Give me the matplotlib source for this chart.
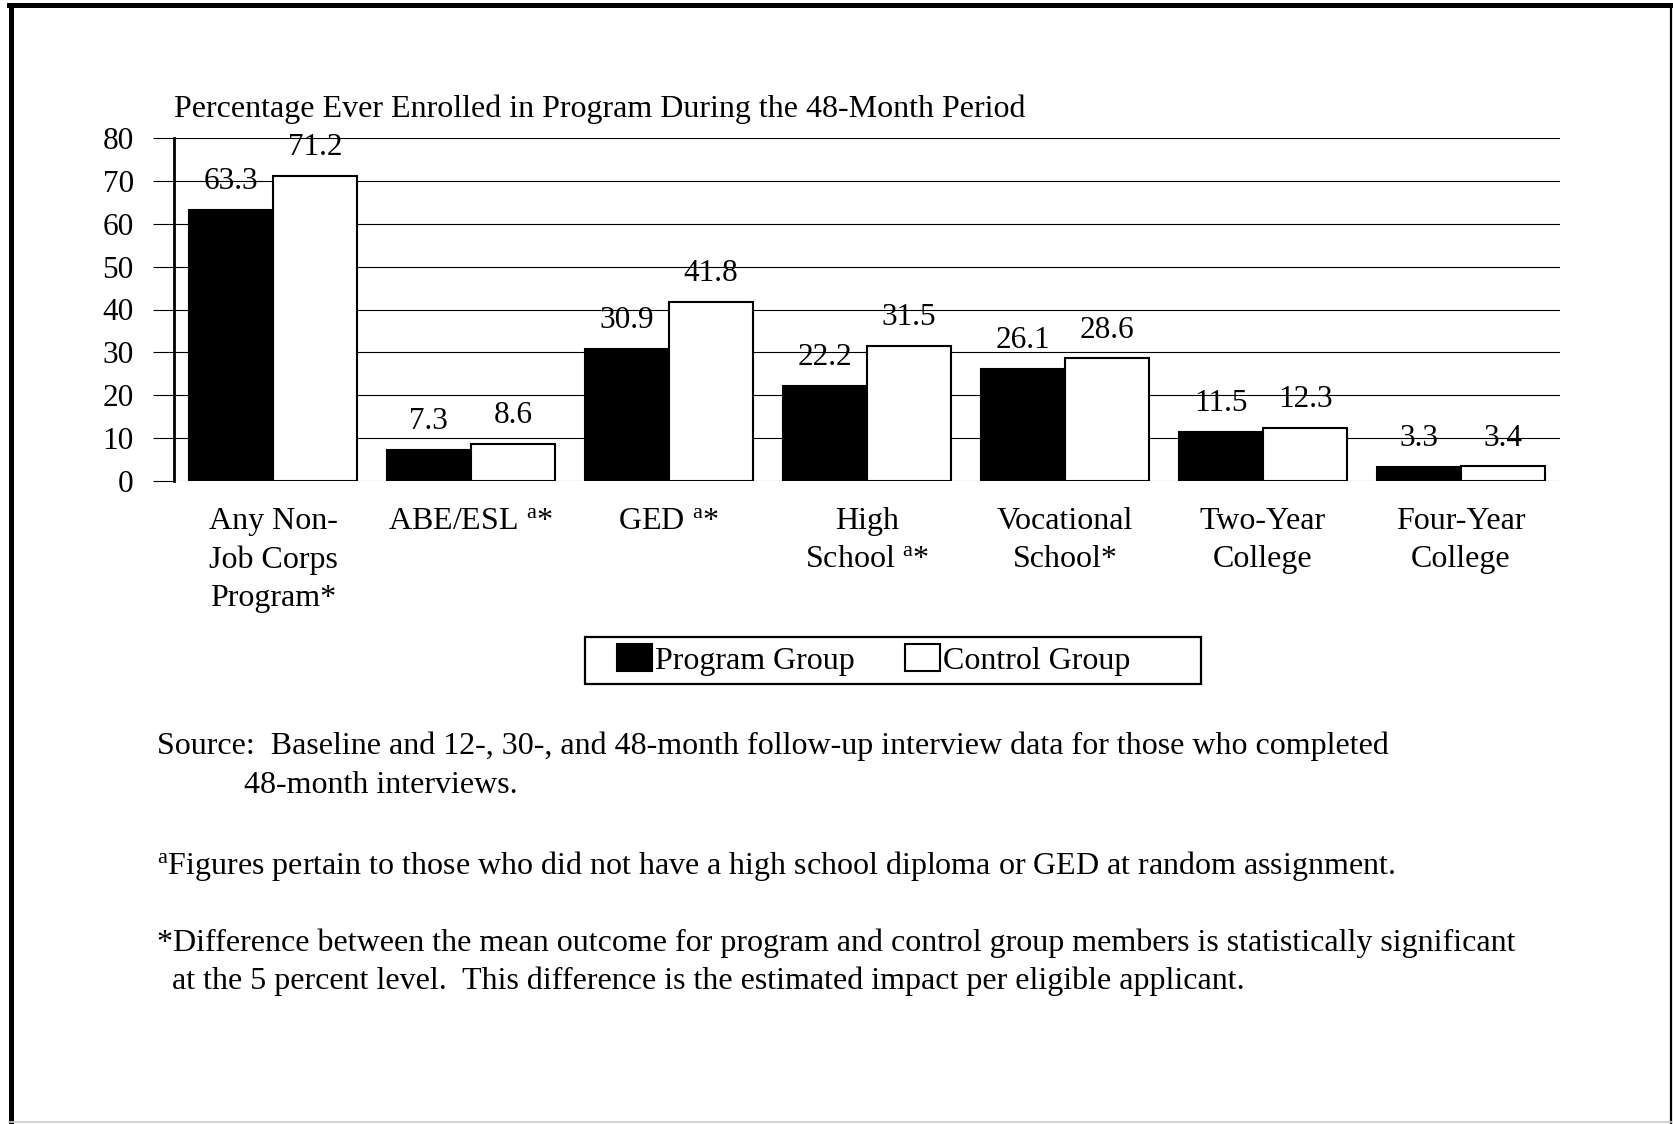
import numpy as np
import matplotlib.pyplot as plt
from matplotlib.lines import Line2D
from matplotlib.patches import Rectangle, Patch

plt.rcParams['font.family'] = ['Liberation Serif', 'DejaVu Serif']
plt.rcParams['mathtext.fontset'] = 'custom'
plt.rcParams['mathtext.rm'] = 'Liberation Serif'
plt.rcParams['mathtext.it'] = 'Liberation Serif'

# Donnees
categories = ["Any Non-\nJob Corps\nProgram*",
              r"ABE/ESL $^{\mathrm{a}}$*",
              r"GED $^{\mathrm{a}}$*",
              "High\n" + r"School $^{\mathrm{a}}$*",
              "Vocational\nSchool*",
              "Two-Year\nCollege",
              "Four-Year\nCollege"]
program = [63.3, 7.3, 30.9, 22.2, 26.1, 11.5, 3.3]
control = [71.2, 8.6, 41.8, 31.5, 28.6, 12.3, 3.4]
y_ticks = [0, 10, 20, 30, 40, 50, 60, 70, 80]

FS = 23      # texte
FN = 22.5    # chiffres
W, H = 1673, 1124
fig = plt.figure(figsize=(W / 100, H / 100), dpi=100)
ax = fig.add_axes([174 / W, 1 - 481 / H, (1560 - 174) / W, (481 - 138) / H])

x = np.arange(len(categories))
bw = 0.425
b1 = ax.bar(x - bw / 2, program, bw, color='black', edgecolor='black', linewidth=1.5, zorder=3)
b2 = ax.bar(x + bw / 2, control, bw, color='white', edgecolor='black', linewidth=1.5, zorder=3)

for bars, vals in [(b1, program), (b2, control)]:
    for r, v in zip(bars, vals):
        ax.annotate(f"{v:.1f}", (r.get_x() + r.get_width() / 2, v), xytext=(0, 15),
                    textcoords='offset points', ha='center', va='baseline', fontsize=FN, zorder=4)

ax.set_xlim(-0.5, len(categories) - 0.5)
ax.set_ylim(0, 80)
ax.set_yticks(y_ticks)
ax.set_xticks(x)
ax.set_xticklabels(categories, fontsize=FS, linespacing=1.4)
ax.tick_params(axis='x', length=0, pad=19)
ax.tick_params(axis='y', direction='out', length=15, width=0.8, pad=14, labelsize=FN)
ax.yaxis.grid(True, color='black', linewidth=0.8)
ax.set_axisbelow(True)
for s in ['top', 'right', 'bottom']:
    ax.spines[s].set_visible(False)
ax.spines['left'].set_linewidth(2)
ax.get_ygridlines()[0].set_color('#777777')

fig.text(174 / W, 1 - 117 / H, "Percentage Ever Enrolled in Program During the 48-Month Period",
         fontsize=FS, va='baseline', ha='left')

# Legende
handles = [Patch(facecolor='black', edgecolor='black', linewidth=1.5),
           Patch(facecolor='white', edgecolor='black', linewidth=1.5)]
fig.legend(handles, ["Program Group", "Control Group"], loc='center left',
           bbox_to_anchor=(617 / W, 1 - 660 / H), ncol=2, frameon=False, fontsize=FS,
           handlelength=1.1, handleheight=0.9, handletextpad=0.1, columnspacing=1.55,
           borderpad=0, borderaxespad=0)
fig.add_artist(Rectangle((585 / W, 1 - 684 / H), (1201 - 585) / W, (684 - 637) / H,
                         transform=fig.transFigure, fill=False, edgecolor='black', linewidth=1.6))

# Notes
notes = [
    (157, 754, "Source:  Baseline and 12-, 30-, and 48-month follow-up interview data for those who completed"),
    (244, 793, "48-month interviews."),
    (157, 874, r"$^{\mathrm{a}}$Figures pertain to those who did not have a high school diploma or GED at random assignment."),
    (157, 951, "*Difference between the mean outcome for program and control group members is statistically significant"),
    (172, 989, "at the 5 percent level.  This difference is the estimated impact per eligible applicant."),
]
for nx, ny, t in notes:
    fig.text(nx / W, 1 - ny / H, t, fontsize=FS, va='baseline', ha='left')

# Cadre
for (xs, ys, lw, c) in [((11, 11), (5, 1124), 3.6, 'black'),
                        ((9, 1671), (5, 5), 3.6, 'black'),
                        ((1671, 1671), (5, 1124), 1.6, 'black'),
                        ((9, 1671), (1122, 1122), 1.2, '#cccccc')]:
    fig.add_artist(Line2D([v / W for v in xs], [1 - v / H for v in ys],
                          transform=fig.transFigure, color=c, linewidth=lw))

fig.savefig("out.png", dpi=100)
